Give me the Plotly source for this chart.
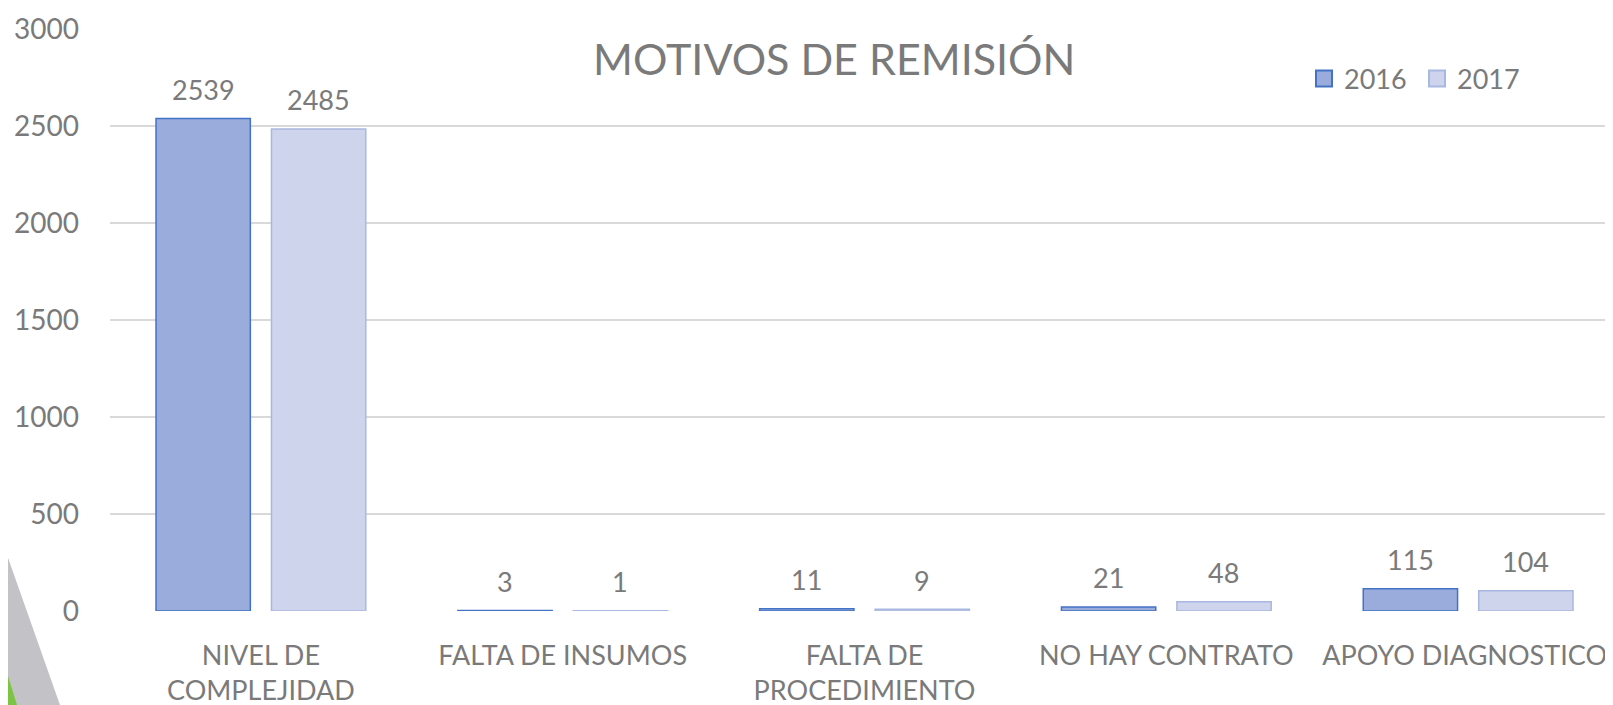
import plotly.graph_objects as go

categories = ["NIVEL DE<br>COMPLEJIDAD", "FALTA DE INSUMOS", "FALTA DE<br>PROCEDIMIENTO",
              "NO HAY CONTRATO", "APOYO DIAGNOSTICO\u00a0"]
series_names = ["2016", "2017"]
values_2016 = [2539, 3, 11, 21, 115]
values_2017 = [2485, 1, 9, 48, 104]
y_ticks = [0, 500, 1000, 1500, 2000, 2500, 3000]
title_text = "MOTIVOS DE REMISIÓN"

OFF = 8  # page body margin
W, H = 1613 - OFF, 705 - OFF
ML, MT = 110 - OFF, 29 - OFF
PLOT_BOTTOM = 611 - OFF
MB = H - PLOT_BOTTOM
MR = 0
plot_w = W - ML - MR
plot_h = H - MT - MB

FONT = "Lato"
TXT = "#7A7A7A"
FILL = ["#99ACDC", "#CDD4EC"]
EDGE = ["#4472C4", "#A9B8E0"]
x_idx = list(range(len(categories)))

fig = go.Figure()
for k, vals in enumerate((values_2016, values_2017)):
    fig.add_trace(go.Bar(
        x=x_idx, y=vals, name=series_names[k], showlegend=False,
        marker=dict(color=FILL[k], line=dict(color=EDGE[k], width=1.5)),
    ))
# legend entries (larger square swatches)
for k in range(2):
    fig.add_trace(go.Scatter(
        x=[None], y=[None], mode="markers", name=series_names[k],
        legend="legend" if k == 0 else "legend2",
        marker=dict(symbol="square", size=19, color=FILL[k], line=dict(color=EDGE[k], width=2)),
    ))

# data labels above bars
half = 0.191
for vals, off in ((values_2016, -half), (values_2017, half)):
    for i, v in enumerate(vals):
        fig.add_annotation(x=i + off, y=v, text=str(v), showarrow=False,
                           yshift=29, yanchor="middle",
                           font=dict(family=FONT, size=27, color=TXT))


def px(xp):
    return (xp - OFF - ML) / plot_w


def py(yp):
    return (PLOT_BOTTOM - (yp - OFF)) / plot_h


# title
fig.add_annotation(x=px(834), y=py(58), xref="paper", yref="paper",
                   text=title_text, showarrow=False, xanchor="center", yanchor="middle",
                   font=dict(family=FONT, size=43, color=TXT))

# decorative corner shapes
fig.add_shape(type="path", xref="paper", yref="paper", layer="below",
              path=f"M {px(0)} {py(535)} L {px(60)} {py(705)} L {px(0)} {py(705)} Z",
              fillcolor="#C3C3C7", line=dict(width=0))
fig.add_shape(type="path", xref="paper", yref="paper", layer="below",
              path=f"M {px(0)} {py(650)} L {px(17)} {py(705)} L {px(0)} {py(705)} Z",
              fillcolor="#7CC443", line=dict(width=0))

leg_common = dict(orientation="h", xanchor="left", yanchor="middle",
                  font=dict(family=FONT, size=27, color=TXT), bgcolor="rgba(0,0,0,0)",
                  itemwidth=30, itemsizing="trace")

fig.update_layout(
    width=W, height=H,
    margin=dict(l=ML, r=MR, t=MT, b=MB, pad=0),
    paper_bgcolor="white", plot_bgcolor="white",
    barmode="group", bargap=0.235, bargroupgap=0.183,
    font=dict(family=FONT, size=27, color=TXT),
    showlegend=True,
    legend=dict(x=px(1304), y=py(79), **leg_common),
    legend2=dict(x=px(1417), y=py(79), **leg_common),
    xaxis=dict(tickmode="array", tickvals=x_idx, ticktext=categories,
               range=[-0.5, 4.48], showgrid=False, zeroline=False,
               showline=False, ticks="", ticklabelstandoff=26,
               ticklabeloverflow="allow",
               tickfont=dict(family=FONT, size=27, color=TXT)),
    yaxis=dict(range=[0, 3000], tickvals=y_ticks, showgrid=True, gridcolor="#D9D9D9",
               gridwidth=1.5, zeroline=False, showline=False, ticks="",
               ticklabelstandoff=30, tickfont=dict(family=FONT, size=28, color=TXT)),
)

fig.write_html("out.html")
